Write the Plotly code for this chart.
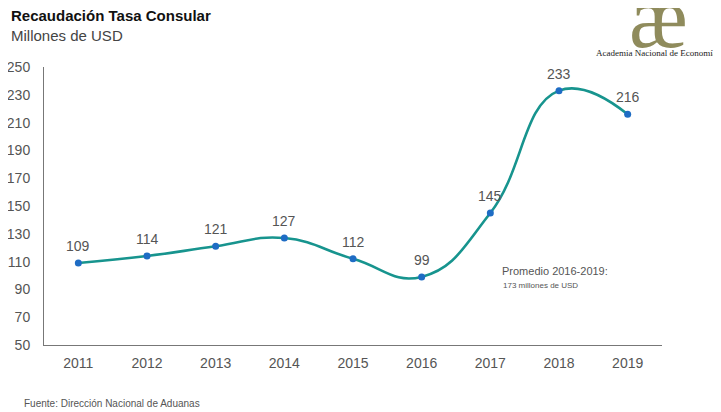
import plotly.graph_objects as go

years = ["2011", "2012", "2013", "2014", "2015", "2016", "2017", "2018", "2019"]
values = [109, 114, 121, 127, 112, 99, 145, 233, 216]
y_ticks = [50, 70, 90, 110, 130, 150, 170, 190, 210, 230, 250]

title = "Recaudación Tasa Consular"
subtitle = "Millones de USD"
source = "Fuente: Dirección Nacional de Aduanas"
avg_line1 = "Promedio 2016-2019:"
avg_line2 = "173 millones de USD"

# the page body adds an 8px offset; work in figure pixels
OFF = 8
W, H = 721 - OFF, 412 - OFF
L, R, T, B = 44 - OFF, 59, 67 - OFF, 67

fig = go.Figure()
fig.add_trace(go.Scatter(
    x=years, y=values, mode="lines+markers",
    line=dict(color="#17948e", width=2.6, shape="spline", smoothing=1.3),
    marker=dict(color="#1e6cc4", size=7),
    cliponaxis=False, hoverinfo="skip",
))

fig.update_layout(
    width=W, height=H,
    margin=dict(l=L, r=R, t=T, b=B, autoexpand=False),
    paper_bgcolor="white", plot_bgcolor="white",
    showlegend=False,
    font=dict(family="Liberation Sans, Arial", color="#555555"),
    xaxis=dict(
        type="category", range=[-0.5, 8.5], automargin=False,
        showline=True, linecolor="#777777", linewidth=1,
        showgrid=False, ticks="", tickfont=dict(size=14, color="#555555"),
        zeroline=False, ticklabelstandoff=5,
    ),
    yaxis=dict(
        range=[50, 250], tickvals=y_ticks, automargin=False,
        showline=True, linecolor="#777777", linewidth=1,
        showgrid=False, ticks="", tickfont=dict(size=14, color="#555555"),
        zeroline=False, ticklabelstandoff=10,
    ),
)

anns = []
# data labels (category index positions)
for i, v in enumerate(values):
    anns.append(dict(x=i, y=v, xref="x", yref="y", text=str(v), showarrow=False,
                     yshift=17, yanchor="middle",
                     font=dict(family="Liberation Sans, Arial", size=14, color="#555555")))

# positions given in window pixels from top-left, converted to paper coords
free = [
    dict(text="<b>" + title + "</b>", px=9, py=15, xanchor="left",
         font=dict(family="Liberation Sans, Arial", size=15, color="#111111")),
    dict(text=subtitle, px=9, py=35, xanchor="left",
         font=dict(family="Liberation Sans, Arial", size=15, color="#444444")),
    dict(text=source, px=22, py=403, xanchor="left",
         font=dict(family="Liberation Sans, Arial", size=10, color="#555555")),
    dict(text=avg_line1, px=500, py=271, xanchor="left",
         font=dict(family="Liberation Sans, Arial", size=11, color="#555555")),
    dict(text=avg_line2, px=501, py=285, xanchor="left",
         font=dict(family="Liberation Sans, Arial", size=8, color="#555555")),
    dict(text="æ", px=658, py=18, xanchor="center",
         font=dict(family="Liberation Serif, DejaVu Serif", size=88, color="#8f8b5c")),
    dict(text="Academia Nacional de Economía", px=719, py=53, xanchor="right",
         font=dict(family="Liberation Serif, DejaVu Serif", size=9, color="#222222")),
]
for a in free:
    px, py = a.pop("px") - OFF, a.pop("py") - OFF
    a.update(xref="paper", yref="paper", showarrow=False, yanchor="middle",
             x=(px - L) / (W - L - R), y=(H - py - B) / (H - T - B))
    anns.append(a)
fig.update_layout(annotations=anns)

fig.write_html("out.html")
